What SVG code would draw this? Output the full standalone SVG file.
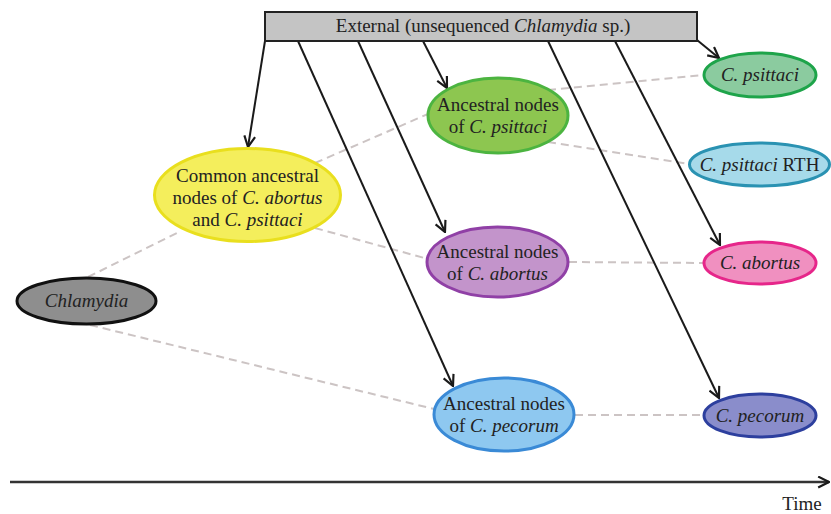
<svg xmlns="http://www.w3.org/2000/svg" width="831" height="514" viewBox="0 0 831 514">
<defs>
<marker id="arr" viewBox="0 0 12 12" refX="11" refY="6" markerWidth="13" markerHeight="13" markerUnits="userSpaceOnUse" orient="auto">
<path d="M1,1 L11,6 L1,11" fill="none" stroke="#1a1a1a" stroke-width="2"/>
</marker>
</defs>
<style>
text{font-family:"Liberation Serif","Times New Roman",serif;font-size:19px;fill:#222;text-anchor:middle}
.i{font-style:italic}
.arrow{stroke:#1a1a1a;stroke-width:2;fill:none;marker-end:url(#arr)}
.dash{stroke:#ccc4c4;stroke-width:2;fill:none;stroke-dasharray:8 5}
ellipse{stroke-width:3}
</style>
<rect width="831" height="514" fill="#fff"/>
<g id="connectors">
<line class="dash" x1="88" y1="277" x2="181" y2="231"/>
<line class="dash" x1="90" y1="325" x2="434" y2="409"/>
<line class="dash" x1="315" y1="163" x2="428" y2="114"/>
<line class="dash" x1="315" y1="228" x2="428" y2="259"/>
<line class="dash" x1="548" y1="90" x2="703" y2="75"/>
<line class="dash" x1="548" y1="142" x2="689" y2="164"/>
<line class="dash" x1="569" y1="262" x2="703" y2="263"/>
<line class="dash" x1="575" y1="415" x2="703" y2="415"/>
<line class="arrow" x1="265" y1="41" x2="248" y2="147"/>
<line class="arrow" x1="298" y1="41" x2="453" y2="386"/>
<line class="arrow" x1="358" y1="41" x2="445" y2="232"/>
<line class="arrow" x1="423" y1="41" x2="447" y2="88"/>
<line class="arrow" x1="548" y1="41" x2="719" y2="398"/>
<line class="arrow" x1="615" y1="41" x2="720" y2="245"/>
<line class="arrow" x1="697" y1="40" x2="719" y2="58"/>
<line x1="10" y1="482" x2="829" y2="482" stroke="#333" stroke-width="2.5" marker-end="url(#arr)"/>
</g>
<g id="external">
<rect x="265" y="12" width="432" height="29" fill="#c4c4c4" stroke="#222" stroke-width="2"/>
<text x="483" y="32">External (unsequenced <tspan class="i">Chlamydia</tspan> sp.)</text>
</g>
<g id="common">
<ellipse cx="247.5" cy="195" rx="93" ry="46.5" fill="#f4ee5c" stroke="#e9df1e"/>
<text x="247.5" y="182">Common ancestral</text>
<text x="247.5" y="204">nodes of <tspan class="i">C. abortus</tspan></text>
<text x="247.5" y="226">and <tspan class="i">C. psittaci</tspan></text>
</g>
<g id="chlamydia">
<ellipse cx="86.5" cy="301" rx="69.5" ry="23" fill="#8e8e8e" stroke="#111" stroke-width="3.5"/>
<text class="i" x="86.5" y="307">Chlamydia</text>
</g>
<g id="anc-psittaci">
<ellipse cx="498" cy="115.5" rx="70" ry="37.5" fill="#8dc650" stroke="#4cb440"/>
<text x="498" y="111">Ancestral nodes</text>
<text x="498" y="133">of <tspan class="i">C. psittaci</tspan></text>
</g>
<g id="anc-abortus">
<ellipse cx="497.5" cy="262" rx="70.5" ry="35" fill="#c394cb" stroke="#9040a6"/>
<text x="497.5" y="258">Ancestral nodes</text>
<text x="497.5" y="280">of <tspan class="i">C. abortus</tspan></text>
</g>
<g id="anc-pecorum">
<ellipse cx="504" cy="414.5" rx="70" ry="36.5" fill="#8ec8f0" stroke="#3a8ad6"/>
<text x="504" y="410">Ancestral nodes</text>
<text x="504" y="432">of <tspan class="i">C. pecorum</tspan></text>
</g>
<g id="c-psittaci">
<ellipse cx="760" cy="75" rx="56" ry="22" fill="#8bcb9f" stroke="#1ea44a"/>
<text class="i" x="760" y="81">C. psittaci</text>
</g>
<g id="c-psittaci-rth">
<ellipse cx="759.5" cy="164.5" rx="70" ry="21.5" fill="#a6daea" stroke="#2a92b2"/>
<text x="759.5" y="170.5"><tspan class="i">C. psittaci</tspan> RTH</text>
</g>
<g id="c-abortus">
<ellipse cx="760" cy="263" rx="56" ry="21" fill="#f090c0" stroke="#e6268a"/>
<text class="i" x="760" y="269">C. abortus</text>
</g>
<g id="c-pecorum">
<ellipse cx="760" cy="415.5" rx="56" ry="21.5" fill="#8a8dcb" stroke="#2d3f9e"/>
<text class="i" x="760" y="421.5">C. pecorum</text>
</g>
<text x="802" y="510">Time</text>
</svg>
